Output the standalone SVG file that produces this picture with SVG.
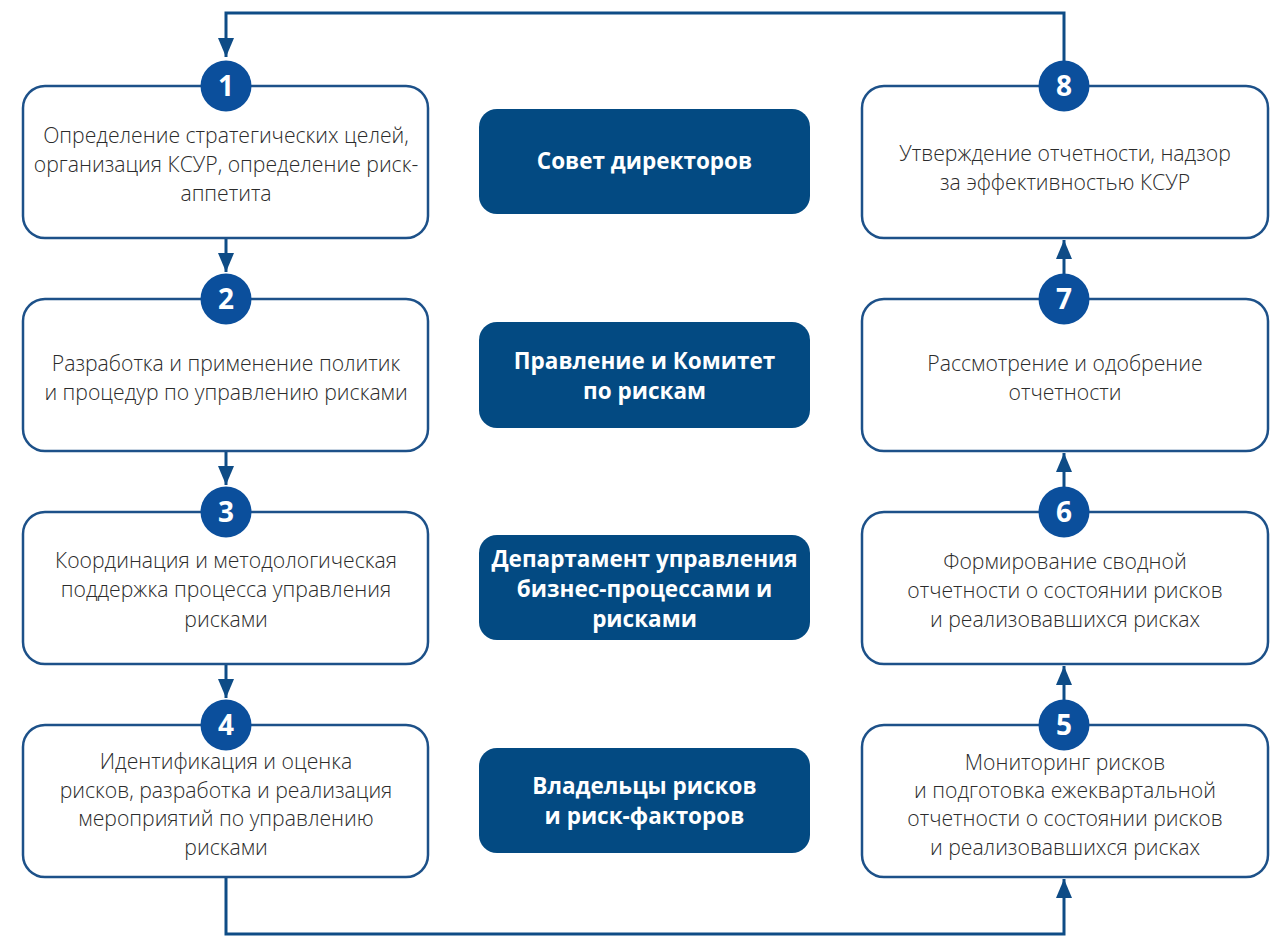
<svg xmlns="http://www.w3.org/2000/svg" width="1286" height="943" viewBox="0 0 1286 943">
<style>
.box{fill:#fff;stroke:#1d5189;stroke-width:2.5}
.dark{fill:#034a82}
.num{fill:#0b4f9c}
.t{font-family:"Open Sans","Noto Sans",sans-serif;font-weight:300;font-size:21.2px;fill:#2b2b2b;text-anchor:middle}
.b{font-family:"Open Sans","Noto Sans",sans-serif;font-weight:700;font-size:22.5px;fill:#fff;text-anchor:middle}
.n{font-family:"Open Sans","Noto Sans",sans-serif;font-weight:700;font-size:28px;fill:#fff;text-anchor:middle}
.c{fill:none;stroke:#0e4c86;stroke-width:3}
</style>
<defs>
<marker id="ah" viewBox="0 0 19 16" refX="19" refY="8" markerWidth="19" markerHeight="16" markerUnits="userSpaceOnUse" orient="auto">
<path d="M0,0 L19,8 L0,16 Z" fill="#0e4c86"/>
</marker>
</defs>
<g id="connectors">
<path class="c" d="M1064,61 V13 H226 V57" marker-end="url(#ah)"/>
<path class="c" d="M226,238 V272" marker-end="url(#ah)"/>
<path class="c" d="M226,451 V485" marker-end="url(#ah)"/>
<path class="c" d="M226,664 V698" marker-end="url(#ah)"/>
<path class="c" d="M226,877 V934 H1064 V879" marker-end="url(#ah)"/>
<path class="c" d="M1064,700 V666" marker-end="url(#ah)"/>
<path class="c" d="M1064,487 V453" marker-end="url(#ah)"/>
<path class="c" d="M1064,274 V240" marker-end="url(#ah)"/>
</g>
<g id="node1">
<rect class="box" x="23" y="86" width="405" height="152" rx="22"/>
<circle class="num" cx="226" cy="86" r="25.5"/>
<text class="n" x="226" y="96">1</text>
<text class="t" x="226" y="143">Определение стратегических целей,</text>
<text class="t" x="226" y="172">организация КСУР, определение риск-</text>
<text class="t" x="226" y="201">аппетита</text>
</g>
<g id="node2">
<rect class="box" x="23" y="299" width="405" height="152" rx="22"/>
<circle class="num" cx="226" cy="299" r="25.5"/>
<text class="n" x="226" y="309">2</text>
<text class="t" x="226" y="371">Разработка и применение политик</text>
<text class="t" x="226" y="400">и процедур по управлению рисками</text>
</g>
<g id="node3">
<rect class="box" x="23" y="512" width="405" height="152" rx="22"/>
<circle class="num" cx="226" cy="512" r="25.5"/>
<text class="n" x="226" y="522">3</text>
<text class="t" x="226" y="568">Координация и методологическая</text>
<text class="t" x="226" y="597">поддержка процесса управления</text>
<text class="t" x="226" y="627">рисками</text>
</g>
<g id="node4">
<rect class="box" x="23" y="725" width="405" height="152" rx="22"/>
<circle class="num" cx="226" cy="725" r="25.5"/>
<text class="n" x="226" y="735">4</text>
<text class="t" x="226" y="769">Идентификация и оценка</text>
<text class="t" x="226" y="798">рисков, разработка и реализация</text>
<text class="t" x="226" y="826">мероприятий по управлению</text>
<text class="t" x="226" y="855">рисками</text>
</g>
<g id="node5">
<rect class="box" x="862" y="725" width="406" height="152" rx="22"/>
<circle class="num" cx="1064" cy="725" r="25.5"/>
<text class="n" x="1064" y="735">5</text>
<text class="t" x="1065" y="770">Мониторинг рисков</text>
<text class="t" x="1065" y="798">и подготовка ежеквартальной</text>
<text class="t" x="1065" y="826">отчетности о состоянии рисков</text>
<text class="t" x="1065" y="855">и реализовавшихся рисках</text>
</g>
<g id="node6">
<rect class="box" x="862" y="512" width="406" height="152" rx="22"/>
<circle class="num" cx="1064" cy="512" r="25.5"/>
<text class="n" x="1064" y="522">6</text>
<text class="t" x="1065" y="569">Формирование сводной</text>
<text class="t" x="1065" y="598">отчетности о состоянии рисков</text>
<text class="t" x="1065" y="627">и реализовавшихся рисках</text>
</g>
<g id="node7">
<rect class="box" x="862" y="299" width="406" height="152" rx="22"/>
<circle class="num" cx="1064" cy="299" r="25.5"/>
<text class="n" x="1064" y="309">7</text>
<text class="t" x="1065" y="371">Рассмотрение и одобрение</text>
<text class="t" x="1065" y="400">отчетности</text>
</g>
<g id="node8">
<rect class="box" x="862" y="86" width="406" height="152" rx="22"/>
<circle class="num" cx="1064" cy="86" r="25.5"/>
<text class="n" x="1064" y="96">8</text>
<text class="t" x="1065" y="161">Утверждение отчетности, надзор</text>
<text class="t" x="1065" y="190">за эффективностью КСУР</text>
</g>
<g id="role1">
<rect class="dark" x="479" y="109" width="331" height="105" rx="18"/>
<text class="b" x="644.5" y="169">Совет директоров</text>
</g>
<g id="role2">
<rect class="dark" x="479" y="322" width="331" height="106" rx="18"/>
<text class="b" x="644.5" y="369">Правление и Комитет</text>
<text class="b" x="644.5" y="399">по рискам</text>
</g>
<g id="role3">
<rect class="dark" x="479" y="535" width="331" height="105" rx="18"/>
<text class="b" x="644.5" y="567">Департамент управления</text>
<text class="b" x="644.5" y="597">бизнес-процессами и</text>
<text class="b" x="644.5" y="627">рисками</text>
</g>
<g id="role4">
<rect class="dark" x="479" y="748" width="331" height="105" rx="18"/>
<text class="b" x="644.5" y="794">Владельцы рисков</text>
<text class="b" x="644.5" y="824">и риск-факторов</text>
</g>
</svg>
